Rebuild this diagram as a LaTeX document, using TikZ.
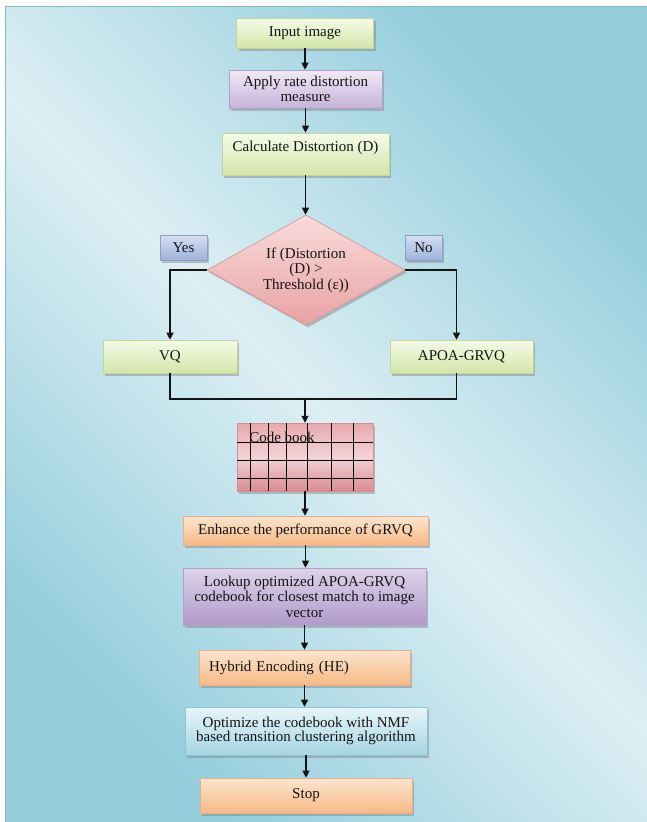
\documentclass[tikz,border=0pt]{standalone}
\usepackage{fontspec}
\setmainfont{Liberation Serif}
\usetikzlibrary{shapes.geometric,shadows,arrows.meta,calc}
\definecolor{bgdark}{HTML}{93CDDC}
\definecolor{bglight}{HTML}{DDEFF4}
\definecolor{gTop}{HTML}{F5FAE8}
\definecolor{gBot}{HTML}{D3E6AA}
\definecolor{gLine}{HTML}{C2D59A}
\definecolor{pTop}{HTML}{F0EAF6}
\definecolor{pBot}{HTML}{C6B3DA}
\definecolor{pLine}{HTML}{B2A0C8}
\definecolor{pdTop}{HTML}{DDD3EA}
\definecolor{pdBot}{HTML}{B29BCB}
\definecolor{oTop}{HTML}{FCE4CE}
\definecolor{oBot}{HTML}{F6BA86}
\definecolor{oLine}{HTML}{E8B088}
\definecolor{bTop}{HTML}{E8F5F9}
\definecolor{bBot}{HTML}{A5D5E2}
\definecolor{bLine}{HTML}{8FC4D3}
\definecolor{rTop}{HTML}{FADADA}
\definecolor{rBot}{HTML}{E8A3A4}
\definecolor{rLine}{HTML}{D39495}
\definecolor{lTop}{HTML}{D6DFF2}
\definecolor{lBot}{HTML}{9FB3DB}
\definecolor{lLine}{HTML}{8A9FCB}
\definecolor{cTop}{HTML}{E7A9AF}
\definecolor{cMid}{HTML}{F3D3D5}
\definecolor{cBot}{HTML}{D98B93}
\definecolor{ink}{HTML}{141414}
\tikzset{
  base/.style={rectangle, line width=0.6pt, inner sep=2pt, align=center,
    text=ink, font=\fontsize{15}{15.5}\selectfont,
    drop shadow={shadow xshift=2pt, shadow yshift=-2.5pt, fill=black!50, opacity=0.45}},
  greenbox/.style={base, top color=gTop, bottom color=gBot, draw=gLine},
  purplebox/.style={base, top color=pTop, bottom color=pBot, draw=pLine},
  darkpurplebox/.style={base, top color=pdTop, bottom color=pdBot, draw=pLine},
  orangebox/.style={base, top color=oTop, bottom color=oBot, draw=oLine},
  bluebox/.style={base, top color=bTop, bottom color=bBot, draw=bLine},
  labelbox/.style={base, top color=lTop, bottom color=lBot, draw=lLine},
  decision/.style={base, diamond, aspect=1.8, inner sep=0pt, top color=rTop, bottom color=rBot, draw=rLine},
  codebox/.style={rectangle, draw=cBot, line width=0.5pt, top color=cTop, bottom color=cBot, middle color=cMid,
    drop shadow={shadow xshift=2pt, shadow yshift=-2.5pt, fill=black!50, opacity=0.45}},
  arr/.style={draw=ink, line width=1.1pt, -{Triangle[length=7pt,width=7pt]}},
  plain/.style={draw=ink, line width=1.1pt},
  gridline/.style={draw=black, line width=1pt}
}
\begin{document}
\begin{tikzpicture}[x=1pt,y=-1pt]
\useasboundingbox (0,0) rectangle (647,822);
\shade[top color=bgdark, bottom color=bgdark, middle color=bglight, shading angle=-45] (5,6) rectangle (647,822);
\draw[bgdark!90!black, line width=0.5pt] (5,822) -- (5,6) -- (647,6);

\node[greenbox, minimum width=137pt, minimum height=30pt] (input) at (305,33) {Input image};
\node[purplebox, minimum width=153pt, minimum height=38pt] (apply) at (305.5,89) {Apply rate distortion\\measure};
\node[greenbox, minimum width=167pt, minimum height=42pt] (calc) at (305.5,154) {Calculate Distortion (D)\\\mbox{}};
\node[decision, minimum width=198pt, minimum height=110pt] (dec) at (306,270) {If (Distortion\\(D) >\\Threshold (ε))};
\node[labelbox, minimum width=47pt, minimum height=25pt] (yes) at (183.5,247.5) {Yes};
\node[labelbox, minimum width=37pt, minimum height=25pt] (no) at (423.5,247.5) {No};
\node[greenbox, minimum width=134pt, minimum height=33pt] (vq) at (170,356.5) {VQ};
\node[greenbox, minimum width=143pt, minimum height=33pt] (apoa) at (461.5,356.5) {APOA-GRVQ};
\coordinate (join) at (305,399);
\node[codebox, minimum width=136pt, minimum height=68pt] (cb) at (305,457) {};
\node[text=ink, font=\fontsize{15}{15.5}\selectfont, inner sep=0pt] (cbl) at (282,437) {Code book};
\foreach \x in {250,268,286,307,331,353} \draw[gridline] (\x,423) -- (\x,491);
\foreach \y in {442,460,478} \draw[gridline] (237,\y) -- (373,\y);
\node[orangebox, minimum width=245pt, minimum height=29pt] (enh) at (305.5,530.5) {Enhance the performance of GRVQ};
\node[darkpurplebox, minimum width=243pt, minimum height=57pt] (look) at (304.5,596.5) {Lookup optimized APOA-GRVQ\\codebook for closest match to image\\vector};
\node[orangebox, minimum width=211pt, minimum height=35pt, text width=191pt, align=left, inner xsep=10pt] (hyb) at (304.5,667.5) {Hybrid Encoding (HE)};
\node[bluebox, minimum width=242pt, minimum height=48pt, font=\fontsize{15}{13.5}\selectfont] (opt) at (306,731) {Optimize the codebook with NMF\\based transition clustering algorithm};
\node[orangebox, minimum width=212pt, minimum height=35pt] (stop) at (306,795.5) {Stop};

\draw[arr] (input.south) -- (input.south |- apply.north);
\draw[arr] (apply.south) -- (apply.south |- calc.north);
\draw[arr] (calc.south) -- (calc.south |- dec.north);
\draw[arr] (dec.west) -| (vq.north);
\draw[arr] (dec.east) -| ([xshift=-5pt]apoa.north);
\draw[plain] (vq.south) |- (join) -| ([xshift=-5pt]apoa.south);
\draw[arr] (join) -- (cb.north);
\draw[arr] (cb.south) -- (cb.south |- enh.north);
\draw[arr] (enh.south) -- (enh.south |- look.north);
\draw[arr] (look.south) -- (look.south |- hyb.north);
\draw[arr] (hyb.south) -- (hyb.south |- opt.north);
\draw[arr] (opt.south) -- (opt.south |- stop.north);
\end{tikzpicture}
\end{document}
